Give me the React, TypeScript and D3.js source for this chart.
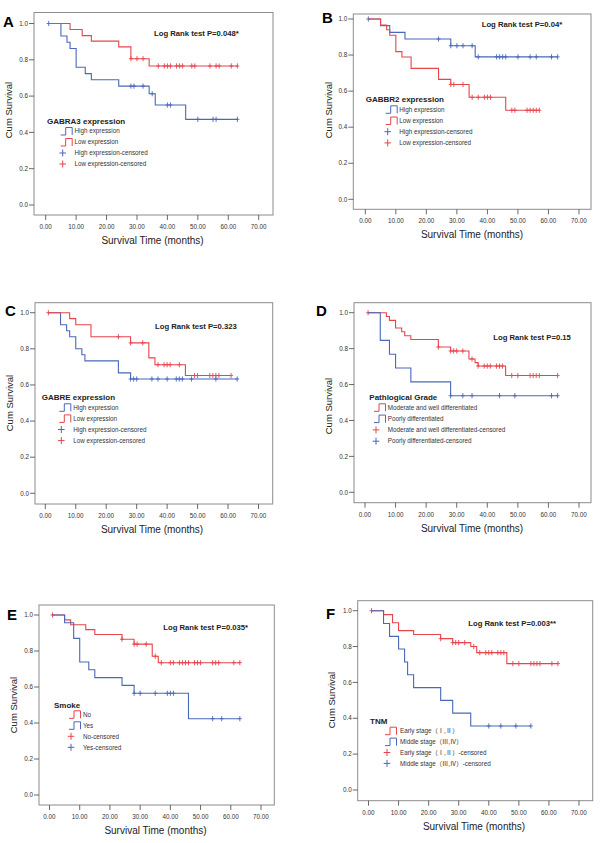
import React from 'react';
import * as d3 from 'd3';

type Step = [number, number];

// ---------- tick values ----------
const xTickValues = [0, 10, 20, 30, 40, 50, 60, 70];
const yTickValues = [0, 0.2, 0.4, 0.6, 0.8, 1.0];

// ---------- Panel A : GABRA3 ----------
const aHighSteps: Step[] = [[1, 1], [5, 0.931], [7, 0.897], [8, 0.862], [10, 0.759], [13, 0.724], [15, 0.69], [24, 0.655], [34, 0.613], [36, 0.551], [46, 0.472]];
const aHighEnd = 63;
const aHighCens = [1, 28, 29, 32, 35, 40, 41, 50, 55, 56, 63];
const aLowSteps: Step[] = [[1, 1], [8, 0.967], [12, 0.933], [15, 0.903], [24, 0.871], [28, 0.806], [34, 0.766]];
const aLowEnd = 63;
const aLowCens = [28, 30, 32, 37, 39, 40, 41, 43, 44, 45, 48, 49, 54, 56, 57, 61, 63];

// ---------- Panel B : GABBR2 ----------
const bHighSteps: Step[] = [[1, 1], [5, 0.963], [8, 0.926], [13, 0.889], [28, 0.852], [36, 0.79]];
const bHighEnd = 63;
const bHighCens = [1, 24, 28, 30, 32, 35, 37, 43, 44, 45, 46, 50, 54, 56, 61, 63];
const bLowSteps: Step[] = [[1, 1], [5, 0.966], [7, 0.94], [8, 0.91], [10, 0.819], [12, 0.789], [15, 0.726], [24, 0.665], [28, 0.637], [34, 0.566], [46, 0.494]];
const bLowEnd = 57;
const bLowCens = [28, 29, 32, 35, 37, 39, 40, 41, 48, 49, 53, 54, 55, 56, 57];

// ---------- Panel C : GABRE ----------
const cHighSteps: Step[] = [[1, 1], [5, 0.933], [7, 0.9], [8, 0.867], [10, 0.8], [12, 0.767], [13, 0.733], [24, 0.667], [28, 0.633]];
const cHighEnd = 63;
const cHighCens = [28, 29, 30, 35, 37, 40, 43, 44, 45, 48, 56, 63];
const cLowSteps: Step[] = [[1, 1], [8, 0.967], [10, 0.933], [15, 0.867], [28, 0.833], [34, 0.75], [36, 0.712], [46, 0.652]];
const cLowEnd = 61;
const cLowCens = [1, 24, 28, 32, 37, 39, 40, 41, 44, 49, 50, 54, 55, 56, 57, 61];

// ---------- Panel D : Pathological grade ----------
const dModSteps: Step[] = [[1, 1], [7, 0.979], [8, 0.957], [10, 0.915], [12, 0.894], [13, 0.872], [15, 0.851], [24, 0.809], [28, 0.787], [34, 0.742], [36, 0.722], [37, 0.703], [46, 0.65]];
const dModEnd = 63;
const dModCens = [1, 24, 28, 29, 30, 32, 35, 37, 39, 40, 41, 43, 44, 45, 48, 50, 54, 55, 56, 57, 63];
const dPoorSteps: Step[] = [[1, 1], [5, 0.846], [8, 0.769], [10, 0.692], [15, 0.615], [28, 0.538]];
const dPoorEnd = 63;
const dPoorCens = [28, 32, 35, 44, 49, 61, 63];

// ---------- Panel E : Smoke ----------
const eNoSteps: Step[] = [[1, 1], [5, 0.973], [7, 0.946], [12, 0.919], [15, 0.892], [24, 0.865], [28, 0.838], [34, 0.771], [36, 0.735]];
const eNoEnd = 63;
const eNoCens = [1, 24, 28, 29, 32, 35, 37, 40, 41, 43, 44, 45, 46, 48, 49, 50, 54, 55, 56, 61, 63];
const eYesSteps: Step[] = [[1, 1], [5, 0.957], [8, 0.87], [10, 0.739], [13, 0.696], [15, 0.652], [24, 0.609], [28, 0.565], [46, 0.424]];
const eYesEnd = 63;
const eYesCens = [28, 30, 35, 39, 40, 41, 54, 57, 63];

// ---------- Panel F : TNM ----------
const fEarlySteps: Step[] = [[1, 1], [5, 0.978], [8, 0.933], [10, 0.889], [15, 0.867], [24, 0.844], [28, 0.822], [34, 0.8], [36, 0.766], [46, 0.705]];
const fEarlyEnd = 63;
const fEarlyCens = [1, 24, 28, 29, 30, 32, 35, 37, 39, 40, 41, 43, 44, 45, 48, 50, 54, 55, 56, 57, 61, 63];
const fMidSteps: Step[] = [[1, 1], [5, 0.929], [7, 0.857], [10, 0.786], [12, 0.714], [13, 0.643], [15, 0.571], [24, 0.5], [28, 0.429], [34, 0.357]];
const fMidEnd = 54;
const fMidCens = [40, 44, 49, 54];

// ---------- text ----------
const panelLetters = ['A', 'B', 'C', 'D', 'E', 'F'];
const logRankTexts = ['Log Rank test P=0.048*', 'Log Rank test P=0.04*', 'Log Rank test P=0.323', 'Log Rank test P=0.15', 'Log Rank test P=0.035*', 'Log Rank test P=0.003**'];
const legendTitles = ['GABRA3 expression', 'GABBR2 expression', 'GABRE expression', 'Pathlogical Grade', 'Smoke', 'TNM'];
const exprLabels = ['High expression', 'Low expression'];
const gradeLabels = ['Moderate and well differentiated', 'Poorly differentiated'];
const smokeLabels = ['No', 'Yes'];
const tnmLabels = ['Early stage（Ⅰ,Ⅱ）', 'Middle stage（Ⅲ,Ⅳ）'];

const BLUE = '#4a68b9';
const RED = '#e6454b';
const FONT = '"Liberation Sans", Arial, "Noto Sans CJK SC", sans-serif';

type Group = { label: string; color: string; steps: Step[]; end: number; cens: number[] };
type Layout = {
  L: number; T: number; R: number; B: number; y1: number; y0: number; x0: number; x70: number;
  letterX: number; letterY: number; lrX: number; lrY: number;
  legX: number; legTitleY: number; legItemY: number; legStep: number; symX: number; textX: number;
  xTitleX: number; yTitleX: number; yTitleY: number;
};

const layouts: Layout[] = [
  { L: 34, T: 12.5, R: 273, B: 215, y1: 23.5, y0: 205, x0: 45.7, x70: 258.7, letterX: 3, letterY: 27, lrX: 154, lrY: 36, legX: 47, legTitleY: 124, legItemY: 131, legStep: 11, symX: 60.7, textX: 74.5, xTitleX: 152.5, yTitleX: 12, yTitleY: 110 },
  { L: 353.3, T: 14, R: 591, B: 209.3, y1: 19, y0: 199.3, x0: 365.3, x70: 579, letterX: 322, letterY: 22.5, lrX: 481.7, lrY: 27, legX: 365.7, legTitleY: 102, legItemY: 109.3, legStep: 11.2, symX: 385.7, textX: 399.3, xTitleX: 472, yTitleX: 332, yTitleY: 110 },
  { L: 35, T: 302.7, R: 272.7, B: 504, y1: 312.7, y0: 493.3, x0: 45.3, x70: 258.5, letterX: 5, letterY: 315.5, lrX: 155, lrY: 328.5, legX: 41.7, legTitleY: 400, legItemY: 407.3, legStep: 11.1, symX: 59.3, textX: 73.3, xTitleX: 152, yTitleX: 12.7, yTitleY: 403 },
  { L: 354, T: 302.7, R: 591, B: 502.7, y1: 312.7, y0: 492.3, x0: 365, x70: 579, letterX: 316, letterY: 315.5, lrX: 493.3, lrY: 339.5, legX: 369.3, legTitleY: 400, legItemY: 407.3, legStep: 11.3, symX: 374, textX: 387.7, xTitleX: 472, yTitleX: 331.7, yTitleY: 406 },
  { L: 39, T: 605, R: 274.3, B: 805, y1: 615, y0: 795, x0: 49.5, x70: 261, letterX: 7, letterY: 619.5, lrX: 163.3, lrY: 629.5, legX: 54, legTitleY: 708, legItemY: 714.3, legStep: 11, symX: 69, textX: 83, xTitleX: 155.5, yTitleX: 16.7, yTitleY: 705 },
  { L: 357.7, T: 600.7, R: 592.7, B: 800.7, y1: 610.7, y0: 790, x0: 368.5, x70: 579, letterX: 326, letterY: 618.5, lrX: 468.3, lrY: 625.5, legX: 370, legTitleY: 724, legItemY: 730.7, legStep: 10.9, symX: 385, textX: 400, xTitleX: 474, yTitleX: 335, yTitleY: 700 },
];

const panelGroups: Group[][] = [
  [
    { label: exprLabels[0], color: BLUE, steps: aHighSteps, end: aHighEnd, cens: aHighCens },
    { label: exprLabels[1], color: RED, steps: aLowSteps, end: aLowEnd, cens: aLowCens },
  ],
  [
    { label: exprLabels[0], color: BLUE, steps: bHighSteps, end: bHighEnd, cens: bHighCens },
    { label: exprLabels[1], color: RED, steps: bLowSteps, end: bLowEnd, cens: bLowCens },
  ],
  [
    { label: exprLabels[0], color: BLUE, steps: cHighSteps, end: cHighEnd, cens: cHighCens },
    { label: exprLabels[1], color: RED, steps: cLowSteps, end: cLowEnd, cens: cLowCens },
  ],
  [
    { label: gradeLabels[0], color: RED, steps: dModSteps, end: dModEnd, cens: dModCens },
    { label: gradeLabels[1], color: BLUE, steps: dPoorSteps, end: dPoorEnd, cens: dPoorCens },
  ],
  [
    { label: smokeLabels[0], color: RED, steps: eNoSteps, end: eNoEnd, cens: eNoCens },
    { label: smokeLabels[1], color: BLUE, steps: eYesSteps, end: eYesEnd, cens: eYesCens },
  ],
  [
    { label: tnmLabels[0], color: RED, steps: fEarlySteps, end: fEarlyEnd, cens: fEarlyCens },
    { label: tnmLabels[1], color: BLUE, steps: fMidSteps, end: fMidEnd, cens: fMidCens },
  ],
];

const bis = d3.bisector((d: Step) => d[0]).right;
function survAt(steps: Step[], t: number): number {
  const i = Math.max(0, bis(steps, t) - 1);
  return steps[i][1];
}

function Panel({ idx }: { idx: number }) {
  const P = layouts[idx];
  const groups = panelGroups[idx];
  const x = d3.scaleLinear().domain([0, 70]).range([P.x0, P.x70]);
  const y = d3.scaleLinear().domain([0, 1]).range([P.y0, P.y1]);
  const line = d3.line<Step>().x(d => x(d[0])).y(d => y(d[1])).curve(d3.curveStepAfter);
  const fx = d3.format('.2f');
  const fy = d3.format('.1f');
  const tickCol = '#444';

  return (
    <g fontFamily={FONT}>
      <rect x={P.L} y={P.T} width={P.R - P.L} height={P.B - P.T} fill="none" stroke="#8c8c8c" strokeWidth={1} />
      {yTickValues.map(v => (
        <g key={'y' + v}>
          <line x1={P.L - 5} x2={P.L} y1={y(v)} y2={y(v)} stroke={tickCol} strokeWidth={0.8} />
          <text x={P.L - 6} y={y(v)} dy="0.35em" textAnchor="end" fontSize={6.3} fill="#333">{fy(v)}</text>
        </g>
      ))}
      {xTickValues.map(v => (
        <g key={'x' + v}>
          <line x1={x(v)} x2={x(v)} y1={P.B} y2={P.B + 5} stroke={tickCol} strokeWidth={0.8} />
          <text x={x(v)} y={P.B + 14} textAnchor="middle" fontSize={6.3} fill="#333">{fx(v)}</text>
        </g>
      ))}
      <text x={P.xTitleX} y={P.B + 29} textAnchor="middle" fontSize={10} fill="#222">Survival Time (months)</text>
      <text transform={`translate(${P.yTitleX},${P.yTitleY}) rotate(-90)`} textAnchor="middle" fontSize={9.5} fill="#222">Cum Survival</text>
      <text x={P.letterX} y={P.letterY} fontSize={15} fontWeight="bold" fill="#000">{panelLetters[idx]}</text>
      <text x={P.lrX} y={P.lrY} fontSize={7.7} fontWeight="bold" fill="#222">{logRankTexts[idx]}</text>

      {groups.map((g, gi) => {
        const pts: Step[] = [...g.steps, [g.end, g.steps[g.steps.length - 1][1]]];
        return (
          <g key={'c' + gi}>
            <path d={line(pts) || ''} fill="none" stroke={g.color} strokeWidth={1.1} />
            {g.cens.map((t, ci) => {
              const cx = x(t), cy = y(survAt(g.steps, t));
              return <path key={ci} d={`M${cx - 2},${cy}H${cx + 2}M${cx},${cy - 2.6}V${cy + 2.6}`} stroke={g.color} strokeWidth={0.9} fill="none" />;
            })}
          </g>
        );
      })}

      <text x={P.legX} y={P.legTitleY} fontSize={8} fontWeight="bold" fill="#222">{legendTitles[idx]}</text>
      {groups.map((g, gi) => {
        const cy = P.legItemY + gi * P.legStep;
        const s = P.symX;
        return (
          <g key={'ls' + gi}>
            <path d={`M${s},${cy + 4}H${s + 5}V${cy - 3.5}H${s + 11.5}V${cy + 4}`} fill="none" stroke={g.color} strokeWidth={1} />
            <text x={P.textX} y={cy} dy="0.35em" fontSize={6.3} fill="#333">{g.label}</text>
          </g>
        );
      })}
      {groups.map((g, gi) => {
        const cy = P.legItemY + (gi + 2) * P.legStep;
        const cx = P.symX + 2;
        return (
          <g key={'lc' + gi}>
            <path d={`M${cx - 3.3},${cy}H${cx + 3.3}M${cx},${cy - 3.5}V${cy + 3.5}`} fill="none" stroke={g.color} strokeWidth={1} />
            <text x={P.textX} y={cy} dy="0.35em" fontSize={6.3} fill="#333">{g.label + '-censored'}</text>
          </g>
        );
      })}
    </g>
  );
}

export default function App() {
  return (
    <svg width={600} height={843} viewBox="0 0 600 843" style={{ position: 'absolute', left: 0, top: 0, background: '#fff' }}>
      <rect x={0} y={0} width={600} height={843} fill="#fff" />
      {layouts.map((_, i) => <Panel key={i} idx={i} />)}
    </svg>
  );
}
